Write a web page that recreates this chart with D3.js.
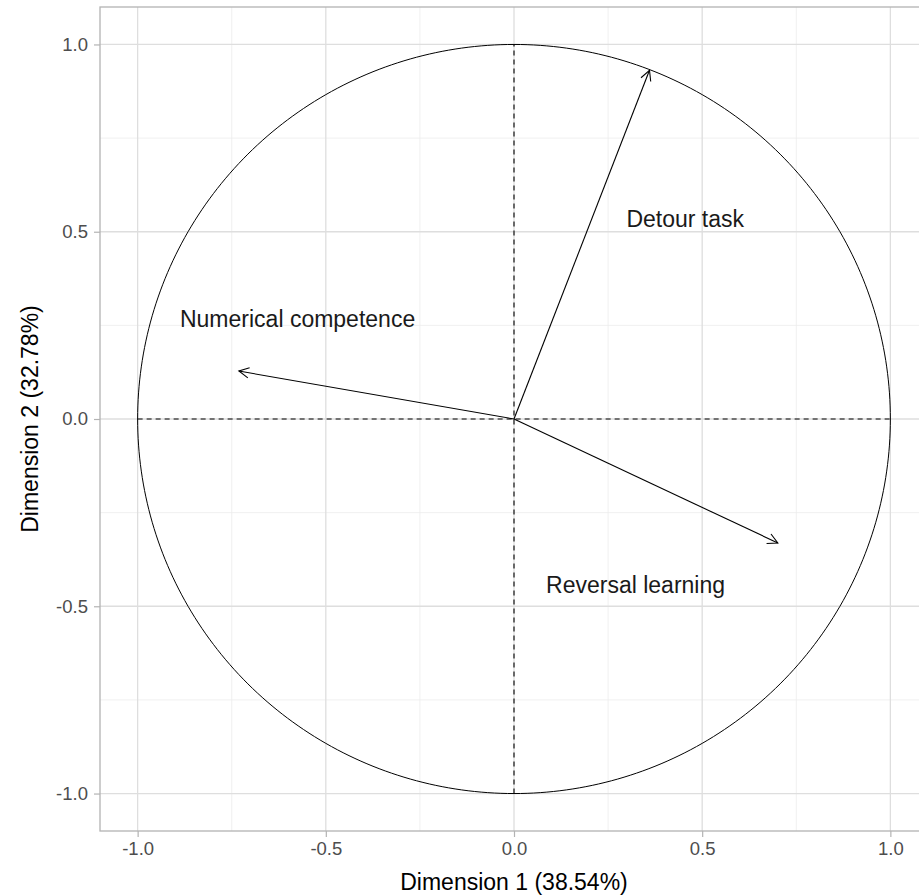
<!DOCTYPE html>
<html>
<head>
<meta charset="utf-8">
<script src="https://cdn.jsdelivr.net/npm/d3@7"></script>
<style>
  body { margin: 0; background: #fff; }
  svg text { font-family: "Liberation Sans", Arial, sans-serif; }
</style>
</head>
<body>
<div id="chart"></div>
<script>
// variables (PCA correlation circle)
const varNames = ["Detour task", "Numerical competence", "Reversal learning"];
const dim1 = [0.360, -0.731, 0.701];
const dim2 = [0.931, 0.128, -0.331];
// label positions (centre of text, data units)
const labelX = [0.455, -0.575, 0.323];
const labelY = [0.533, 0.266, -0.442];

const tickValues = [-1.0, -0.5, 0.0, 0.5, 1.0];
const tickLabels = ["-1.0", "-0.5", "0.0", "0.5", "1.0"];
const minorTicks = [-0.75, -0.25, 0.25, 0.75];
const xTitle = "Dimension 1 (38.54%)";
const yTitle = "Dimension 2 (32.78%)";

const W = 919, H = 895;
const margin = {top: 7, left: 100, bottom: 64};

const svg = d3.select("#chart").append("svg")
    .attr("width", W)
    .attr("height", H);

// scales
const x = d3.scaleLinear().domain([-1.1, 1.1]).range([margin.left, margin.left + 828]);
const y = d3.scaleLinear().domain([-1.1, 1.1]).range([H - margin.bottom, margin.top]);

const plot = svg.append("g");

// grid - minor
plot.selectAll(".minor-x").data(minorTicks).enter().append("line")
    .attr("x1", d => x(d)).attr("x2", d => x(d))
    .attr("y1", y(-1.1)).attr("y2", y(1.1))
    .attr("stroke", "#ececec").attr("stroke-width", 0.8);
plot.selectAll(".minor-y").data(minorTicks).enter().append("line")
    .attr("y1", d => y(d)).attr("y2", d => y(d))
    .attr("x1", x(-1.1)).attr("x2", x(1.1))
    .attr("stroke", "#ececec").attr("stroke-width", 0.8);
// grid - major
plot.selectAll(".major-x").data(tickValues).enter().append("line")
    .attr("x1", d => x(d)).attr("x2", d => x(d))
    .attr("y1", y(-1.1)).attr("y2", y(1.1))
    .attr("stroke", "#dedede").attr("stroke-width", 1.3);
plot.selectAll(".major-y").data(tickValues).enter().append("line")
    .attr("y1", d => y(d)).attr("y2", d => y(d))
    .attr("x1", x(-1.1)).attr("x2", x(1.1))
    .attr("stroke", "#dedede").attr("stroke-width", 1.3);

// unit circle
const circ = d3.range(0, 361, 1).map(a => [Math.cos(a * Math.PI / 180), Math.sin(a * Math.PI / 180)]);
plot.append("path")
    .datum(circ)
    .attr("d", d3.line().x(d => x(d[0])).y(d => y(d[1])))
    .attr("fill", "none").attr("stroke", "#000").attr("stroke-width", 1);

// dashed axes
plot.append("line")
    .attr("x1", x(-1)).attr("x2", x(1)).attr("y1", y(0)).attr("y2", y(0))
    .attr("stroke", "#000").attr("stroke-width", 1.1).attr("stroke-dasharray", "5,4");
plot.append("line")
    .attr("x1", x(0)).attr("x2", x(0)).attr("y1", y(-1)).attr("y2", y(1))
    .attr("stroke", "#000").attr("stroke-width", 1.1).attr("stroke-dasharray", "5,4");

// arrows
svg.append("defs").append("marker")
    .attr("id", "arrow")
    .attr("viewBox", "-12 -6 14 12")
    .attr("refX", 0).attr("refY", 0)
    .attr("markerWidth", 14).attr("markerHeight", 12)
    .attr("markerUnits", "userSpaceOnUse")
    .attr("orient", "auto")
    .append("path")
    .attr("d", "M-10,-5.2L0,0L-10,5.2")
    .attr("fill", "none").attr("stroke", "#000").attr("stroke-width", 1.1);

const vars = varNames.map((n, i) => ({name: n, x: dim1[i], y: dim2[i], lx: labelX[i], ly: labelY[i]}));

plot.selectAll(".arrow").data(vars).enter().append("line")
    .attr("x1", x(0)).attr("y1", y(0))
    .attr("x2", d => x(d.x)).attr("y2", d => y(d.y))
    .attr("stroke", "#000").attr("stroke-width", 1.1)
    .attr("marker-end", "url(#arrow)");

plot.selectAll(".vlabel").data(vars).enter().append("text")
    .attr("x", d => x(d.lx)).attr("y", d => y(d.ly))
    .attr("dy", "0.35em")
    .attr("text-anchor", "middle")
    .attr("font-size", "23px")
    .attr("fill", "#1a1a1a")
    .text(d => d.name);

// panel border
svg.append("rect")
    .attr("x", x(-1.1)).attr("y", y(1.1))
    .attr("width", x(1.1) - x(-1.1)).attr("height", y(-1.1) - y(1.1))
    .attr("fill", "none").attr("stroke", "#b3b3b3").attr("stroke-width", 1.3);

// axes
const fmt = (d, i) => tickLabels[i];
const xAxis = d3.axisBottom(x).tickValues(tickValues).tickFormat(fmt).tickSize(6).tickPadding(5);
const yAxis = d3.axisLeft(y).tickValues(tickValues).tickFormat(fmt).tickSize(6).tickPadding(6);

const gx = svg.append("g").attr("transform", "translate(0," + y(-1.1) + ")").call(xAxis);
const gy = svg.append("g").attr("transform", "translate(" + x(-1.1) + ",0)").call(yAxis);
[gx, gy].forEach(g => {
    g.select(".domain").remove();
    g.selectAll(".tick line").attr("stroke", "#b3b3b3").attr("stroke-width", 1.2);
    g.selectAll(".tick text").attr("fill", "#4d4d4d").attr("font-size", "18.5px")
        .style("font-family", "'Liberation Sans', Arial, sans-serif");
});

svg.append("text")
    .attr("x", x(0)).attr("y", 890)
    .attr("text-anchor", "middle")
    .attr("font-size", "23px")
    .attr("fill", "#000")
    .text(xTitle);

svg.append("text")
    .attr("transform", "translate(38," + y(0) + ") rotate(-90)")
    .attr("text-anchor", "middle")
    .attr("font-size", "23px")
    .attr("fill", "#000")
    .text(yTitle);
</script>
</body>
</html>
